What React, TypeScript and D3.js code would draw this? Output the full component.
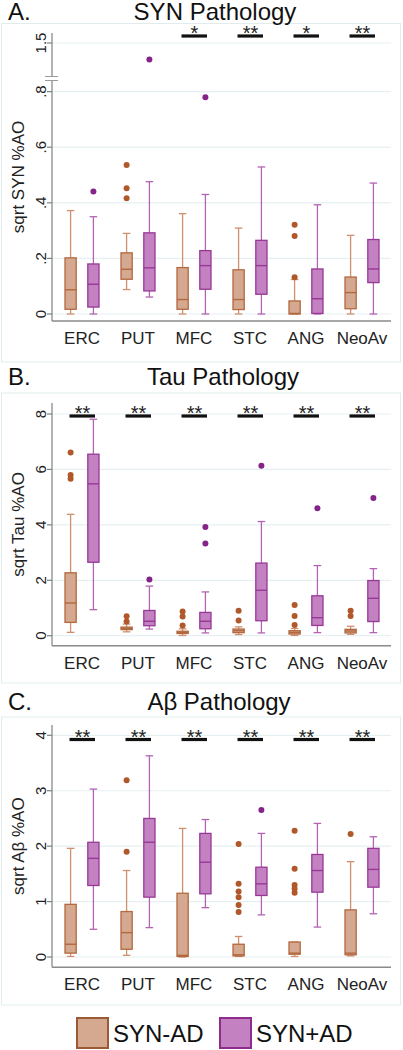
import React from "react";
import * as d3 from "d3";

const categories = ["ERC", "PUT", "MFC", "STC", "ANG", "NeoAv"];
const groupLabels = ["SYN-AD", "SYN+AD"];

// Box stats per category: [lower whisker, Q1, median, Q3, upper whisker]
// A. SYN pathology
const synNeg = [
  [0, 0.017, 0.087, 0.202, 0.372],
  [0.088, 0.125, 0.161, 0.22, 0.29],
  [0, 0.017, 0.052, 0.167, 0.361],
  [0, 0.016, 0.052, 0.159, 0.309],
  [0, 0, 0.002, 0.047, 0.124],
  [0, 0.019, 0.077, 0.133, 0.283],
];
const synNegOut = [[], [0.536, 0.452, 0.416], [], [], [0.321, 0.281, 0.132], []];
const synPos = [
  [0, 0.025, 0.107, 0.18, 0.35],
  [0.061, 0.083, 0.166, 0.292, 0.476],
  [0, 0.089, 0.174, 0.228, 0.43],
  [0, 0.071, 0.174, 0.265, 0.529],
  [0, 0.002, 0.055, 0.162, 0.393],
  [0, 0.113, 0.162, 0.268, 0.471],
];
const synPosOut = [[0.441], [1.21], [0.78], [], [], []];
const synSig = ["", "", "*", "**", "*", "**"];
const synTicks = [0, 0.2, 0.4, 0.6, 0.8, 1.5];
const synTickLabels = ["0", ".2", ".4", ".6", ".8", "1.5"];

// B. Tau pathology
const tauNeg = [
  [0.12, 0.48, 1.18, 2.27, 4.38],
  [0.14, 0.22, 0.26, 0.31, 0.42],
  [0.01, 0.08, 0.12, 0.16, 0.25],
  [0.04, 0.11, 0.18, 0.24, 0.32],
  [0.01, 0.06, 0.12, 0.18, 0.26],
  [0.05, 0.1, 0.17, 0.23, 0.34],
];
const tauNegOut = [[6.61, 5.8, 5.66], [0.7, 0.51], [0.87, 0.69, 0.37], [0.9, 0.55], [1.11, 0.71, 0.39], [0.9, 0.71]];
const tauPos = [
  [0.94, 2.65, 5.48, 6.55, 7.81],
  [0.24, 0.36, 0.52, 0.91, 1.79],
  [0.1, 0.25, 0.52, 0.84, 1.58],
  [0.1, 0.54, 1.64, 2.62, 4.12],
  [0.11, 0.37, 0.65, 1.44, 2.53],
  [0.11, 0.51, 1.35, 1.99, 2.42],
];
const tauPosOut = [[], [2.03], [3.92, 3.33], [6.13], [4.6], [4.97]];
const tauSig = ["**", "**", "**", "**", "**", "**"];
const tauTicks = [0, 2, 4, 6, 8];
const tauTickLabels = ["0", "2", "4", "6", "8"];

// C. Abeta pathology
const abNeg = [
  [0.01, 0.07, 0.23, 0.95, 1.96],
  [0.03, 0.14, 0.44, 0.82, 1.56],
  [0, 0.01, 0.03, 1.15, 2.32],
  [0.01, 0.02, 0.04, 0.23, 0.37],
  [0.01, 0.05, 0.07, 0.27, 0.27],
  [0.02, 0.04, 0.07, 0.85, 1.72],
];
const abNegOut = [[], [3.19, 1.9], [], [2.04, 1.32, 1.18, 1.08, 0.94, 0.81], [2.28, 1.59, 1.3, 1.23, 1.16], [2.22]];
const abPos = [
  [0.5, 1.29, 1.78, 2.07, 3.03],
  [0.53, 1.08, 2.07, 2.5, 3.63],
  [0.89, 1.14, 1.71, 2.23, 2.48],
  [0.76, 1.11, 1.32, 1.62, 2.23],
  [0.54, 1.17, 1.56, 1.85, 2.41],
  [0.78, 1.26, 1.58, 1.96, 2.17],
];
const abPosOut = [[], [], [], [2.65], [], []];
const abSig = ["**", "**", "**", "**", "**", "**"];
const abTicks = [0, 1, 2, 3, 4];
const abTickLabels = ["0", "1", "2", "3", "4"];

const FONT = "'Liberation Sans', Arial, Helvetica, sans-serif";
const COL = [
  { fill: "#d5a98f", stroke: "#b3683f", whisk: "#cf906e", dot: "#b0582a", legend: "#9a5a36" },
  { fill: "#c481c1", stroke: "#973897", whisk: "#b463b4", dot: "#862389", legend: "#8e2c8e" },
];

const PLOT_L = 52;
const PLOT_R = 391;
const x = d3.scalePoint<string>().domain(categories).range([82, 362]);
const OFFS = [-11.4, 11.4];
const BOX_HALF = 5.6;
const CAP_HALF = 3.8;

type PanelProps = {
  letter: string;
  title: string;
  titleX: number;
  yTitle: string;
  y: d3.ScaleLinear<number, number>;
  ticks: number[];
  tickLabels: string[];
  titleY: number;
  frameTop: number;
  frameBottom: number;
  axisTop: number;
  axisY: number;
  sigY: number;
  sig: string[];
  data: number[][][];
  outs: number[][][];
  brk?: number;
};

function Panel(p: PanelProps) {
  const { y } = p;
  const midY = (p.axisTop + p.axisY) / 2;
  return (
    <g>
      <rect x={1.5} y={p.frameTop} width={399} height={p.frameBottom - p.frameTop} fill="none" stroke="#e2ecee" strokeWidth={1} />
      <text x={8} y={p.titleY} fontSize={24} fontFamily={FONT} fill="#111">{p.letter}</text>
      <text x={p.titleX} y={p.titleY} fontSize={24} fontFamily={FONT} fill="#111" textAnchor="middle">{p.title}</text>
      {p.ticks.map((t, i) => (
        <line key={"g" + i} x1={PLOT_L} x2={PLOT_R} y1={y(t)} y2={y(t)} stroke="#e6eff1" strokeWidth={1.2} />
      ))}
      <line x1={PLOT_L} x2={PLOT_L} y1={p.axisTop} y2={p.axisY} stroke="#808080" strokeWidth={1.2} />
      <line x1={PLOT_L} x2={PLOT_R} y1={p.axisY} y2={p.axisY} stroke="#8a8a8a" strokeWidth={1.4} />
      {p.ticks.map((t, i) => (
        <g key={"t" + i}>
          <line x1={PLOT_L - 5} x2={PLOT_L} y1={y(t)} y2={y(t)} stroke="#808080" strokeWidth={1.2} />
          <text
            transform={`translate(46,${y(t)}) rotate(-90)`}
            textAnchor="middle"
            fontSize={15}
            fontFamily={FONT}
            fill="#222"
          >
            {p.tickLabels[i]}
          </text>
        </g>
      ))}
      {p.brk !== undefined && (
        <g>
          <rect x={PLOT_L - 3} y={p.brk - 2} width={6} height={4} fill="#fff" />
          <line x1={45} x2={58} y1={p.brk - 2} y2={p.brk - 2} stroke="#9a9a9a" strokeWidth={1} />
          <line x1={45} x2={58} y1={p.brk + 2} y2={p.brk + 2} stroke="#9a9a9a" strokeWidth={1} />
        </g>
      )}
      <text
        transform={`translate(24,${midY}) rotate(-90)`}
        textAnchor="middle"
        fontSize={17}
        fontFamily={FONT}
        fill="#222"
      >
        {p.yTitle}
      </text>
      {categories.map((c) => (
        <text key={"x" + c} x={x(c)} y={p.axisY + 23} textAnchor="middle" fontSize={17} fontFamily={FONT} fill="#222">
          {c}
        </text>
      ))}
      {categories.map((c, i) =>
        [0, 1].map((g) => {
          const s = p.data[g][i];
          const cx = (x(c) as number) + OFFS[g];
          const col = COL[g];
          return (
            <g key={c + g}>
              <line x1={cx} x2={cx} y1={y(s[0])} y2={y(s[1])} stroke={col.whisk} strokeWidth={1.3} />
              <line x1={cx} x2={cx} y1={y(s[3])} y2={y(s[4])} stroke={col.whisk} strokeWidth={1.3} />
              <line x1={cx - CAP_HALF} x2={cx + CAP_HALF} y1={y(s[0])} y2={y(s[0])} stroke={col.whisk} strokeWidth={1.3} />
              <line x1={cx - CAP_HALF} x2={cx + CAP_HALF} y1={y(s[4])} y2={y(s[4])} stroke={col.whisk} strokeWidth={1.3} />
              <rect
                x={cx - BOX_HALF}
                y={y(s[3])}
                width={BOX_HALF * 2}
                height={Math.max(0.5, y(s[1]) - y(s[3]))}
                fill={col.fill}
                stroke={col.stroke}
                strokeWidth={1.3}
              />
              <line x1={cx - BOX_HALF} x2={cx + BOX_HALF} y1={y(s[2])} y2={y(s[2])} stroke={col.stroke} strokeWidth={1.4} />
              {p.outs[g][i].map((o, k) => (
                <circle key={k} cx={cx} cy={y(o)} r={3} fill={col.dot} />
              ))}
            </g>
          );
        })
      )}
      {categories.map((c, i) =>
        p.sig[i] ? (
          <g key={"s" + c}>
            <rect x={(x(c) as number) - 12.5} y={p.sigY - 1.6} width={25.5} height={3.2} fill="#111" />
            <text x={(x(c) as number) + 0.5} y={p.sigY + 4} textAnchor="middle" fontSize={20} fontFamily={FONT} fill="#222">
              {p.sig[i]}
            </text>
          </g>
        ) : null
      )}
    </g>
  );
}

export default function App() {
  const yA = d3.scaleLinear().domain([0, 0.84, 1.5]).range([314, 80.5, 43]);
  const yB = d3.scaleLinear().domain([0, 8]).range([635.7, 414]);
  const yC = d3.scaleLinear().domain([0, 4]).range([957, 735.3]);
  return (
    <div style={{ position: "absolute", left: 0, top: 0, background: "#fff" }}>
      <svg width={403} height={1050} style={{ display: "block" }}>
        <rect width={403} height={1050} fill="#fff" />
        <Panel
          letter="A."
          title="SYN Pathology"
          titleX={215}
          yTitle="sqrt SYN %AO"
          y={yA}
          ticks={synTicks}
          tickLabels={synTickLabels}
          titleY={20}
          frameTop={23.5}
          frameBottom={362}
          axisTop={33}
          axisY={321}
          sigY={36}
          sig={synSig}
          data={[synNeg, synPos]}
          outs={[synNegOut, synPosOut]}
          brk={78.5}
        />
        <Panel
          letter="B."
          title="Tau Pathology"
          titleX={223}
          yTitle="sqrt Tau %AO"
          y={yB}
          ticks={tauTicks}
          tickLabels={tauTickLabels}
          titleY={385}
          frameTop={393}
          frameBottom={683}
          axisTop={403}
          axisY={645.7}
          sigY={416}
          sig={tauSig}
          data={[tauNeg, tauPos]}
          outs={[tauNegOut, tauPosOut]}
        />
        <Panel
          letter="C."
          title="Aβ Pathology"
          titleX={219}
          yTitle="sqrt Aβ %AO"
          y={yC}
          ticks={abTicks}
          tickLabels={abTickLabels}
          titleY={710}
          frameTop={717}
          frameBottom={1005}
          axisTop={725}
          axisY={967.3}
          sigY={739.5}
          sig={abSig}
          data={[abNeg, abPos]}
          outs={[abNegOut, abPosOut]}
        />
        {groupLabels.map((lab, g) => {
          const lx = g === 0 ? 77 : 220;
          return (
            <g key={lab}>
              <rect x={lx} y={1018} width={31} height={30} fill={COL[g].fill} stroke={COL[g].legend} strokeWidth={2} />
              <text x={lx + 36} y={1042} fontSize={24} fontFamily={FONT} fill="#111">
                {lab}
              </text>
            </g>
          );
        })}
      </svg>
    </div>
  );
}
